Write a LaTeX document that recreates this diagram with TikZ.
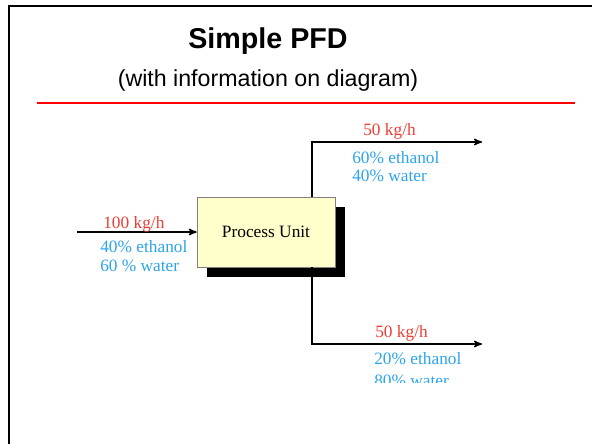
\documentclass[tikz,border=0pt]{standalone}
\usepackage{fontspec}
\setmainfont{Liberation Serif}
\newfontfamily\headfont{Liberation Sans}
\usetikzlibrary{arrows,shadows}
\definecolor{ratered}{RGB}{236,62,52}
\definecolor{compblue}{RGB}{44,164,236}
\definecolor{unityellow}{RGB}{255,255,204}

\begin{document}
\begin{tikzpicture}
    [ x=.75pt, y=-.75pt,
      frame/.style={black, line width=1.8pt},
      rule/.style={red, line width=2.2pt},
      title/.style={font={\headfont\bfseries\fontsize{21.5}{24}\selectfont}, inner sep=0},
      subtitle/.style={font={\headfont\fontsize{17.4}{20}\selectfont}, inner sep=0},
      unit/.style={draw=gray, line width=.5pt, fill=unityellow,
                   minimum width=103.5pt, minimum height=52.5pt, inner sep=0,
                   drop shadow={shadow xshift=7.5pt, shadow yshift=-7.2pt,
                                fill=black, opacity=1},
                   font={\fontsize{13}{15}\selectfont}},
      stream/.style={black, line width=1.1pt, ->, >=stealth'},
      rate/.style={text=ratered, anchor=base west, inner sep=0,
                   font={\fontsize{13}{15}\selectfont}},
      comp/.style={text=compblue, anchor=base west, inner sep=0,
                   font={\fontsize{13}{15}\selectfont}}
    ]
    \useasboundingbox (0, 0) rectangle (592, 444);

    % Slide frame
    \draw[frame] (8.7, 444) -- (8.7, 6) -- (592, 6);

    % Title
    \node[title, anchor=base] (head) at (268, 48) {Simple PFD};
    \node[subtitle, anchor=base] (subhead) at (268, 86) {(with information on diagram)};
    \draw[rule] (37, 103) -- (575, 103);

    % Process unit
    \node[unit] (unit) at (266, 232) {\raisebox{-3pt}{Process Unit}};

    % Feed
    \coordinate (feed) at (77, 232);
    \draw[stream] (feed) -- (unit.west);
    \node[rate] (feedrate) at (103, 228) {100 kg/h};
    \node[comp] (feedeth) at (100, 252.5) {40\% ethanol};
    \node[comp] (feedwat) at (100, 271.5) {60 \% water};

    % Top product
    \coordinate (topbend) at (312, 142);
    \coordinate (topend) at (482, 142);
    \draw[stream] (unit.north -| topbend) -- (topbend) -- (topend);
    \node[rate] (toprate) at (363, 135) {50 kg/h};
    \node[comp] (topeth) at (352, 163) {60\% ethanol};
    \node[comp] (topwat) at (352, 181.5) {40\% water};

    % Bottom product
    \coordinate (botbend) at (312, 344);
    \coordinate (botend) at (482, 344);
    \draw[stream] (unit.south -| botbend) -- (botbend) -- (botend);
    \node[rate] (botrate) at (375, 337) {50 kg/h};
    \begin{scope}
        \clip (0, 0) rectangle (592, 382);
        \node[comp] (boteth) at (374, 364) {20\% ethanol};
        \node[comp] (botwat) at (374, 386.5) {80\% water};
    \end{scope}

\end{tikzpicture}
\end{document}
